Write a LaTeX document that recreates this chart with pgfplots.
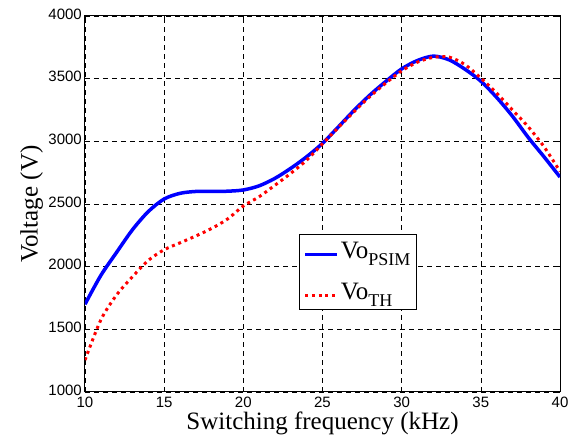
\documentclass[border=0pt]{standalone}
\usepackage{pgfplots}
\pgfplotsset{compat=1.18}
\usepackage{fontspec}
\setmainfont{Liberation Serif}
\newfontfamily\arial{Liberation Sans}
\newcommand{\sub}[1]{\raisebox{-6.5pt}{\fontsize{18}{18}\selectfont #1}}
\begin{document}
\begin{tikzpicture}
\begin{axis}[name=ax,
  scale only axis, width=475pt, height=376pt,
  xmin=10, xmax=40, ymin=1000, ymax=4000,
  xtick={10,15,...,40}, ytick={1000,1500,...,4000},
  /pgf/number format/assume math mode=true,
  /pgf/number format/set thousands separator={},
  ticklabel style={font=\arial\fontsize{15}{15}\selectfont},
  yticklabel style={inner sep=0pt, xshift=-3pt, yshift=2pt},
  xticklabel style={inner sep=0pt, yshift=-5pt},
  tick align=inside, major tick length=5pt,
  xmajorgrids, ymajorgrids,
  grid style={black, dash pattern=on 5pt off 4pt, line width=0.6pt},
  axis line style={line width=1pt},
  tick style={black, line width=0.6pt},
  xlabel={Switching frequency (kHz)},
  ylabel={Voltage (V)},
  label style={font=\fontsize{25}{25}\selectfont},
  xlabel style={yshift=-1pt},
  ylabel style={yshift=2pt},
  legend style={at={(0.4505,0.420)}, anchor=north west, draw=black, line width=1pt,
    font=\fontsize{25}{25}\selectfont, inner xsep=4pt, inner ysep=6pt,
    nodes={inner sep=2pt}, row sep=19pt},
  legend cell align=left,
  legend image code/.code={\draw[#1] (0pt,-3pt) -- (32pt,-3pt);},
]
\addplot[blue, line width=3.5pt, smooth] coordinates {
(10,1700)(11,1930)(12,2115)(13,2295)(14,2440)(15,2540)(16,2585)(17,2600)(18,2600)(19,2602)(20,2612)(21,2645)(22,2705)(23,2785)(24,2877)(25,2984)(26,3115)(27,3248)(28,3370)(29,3478)(30,3578)(31,3645)(32,3680)(33,3650)(34,3575)(35,3480)(36,3350)(37,3200)(38,3030)(39,2875)(40,2715)};
\addlegendentry{Vo\sub{PSIM}}
\addplot[red, line width=3pt, dash pattern=on 3pt off 3.7pt, smooth] coordinates {
(10,1255)(11,1575)(12,1775)(13,1920)(14,2050)(15,2135)(16,2190)(17,2245)(18,2305)(19,2380)(20,2484)(21,2558)(22,2650)(23,2745)(24,2850)(25,2980)(26,3110)(27,3238)(28,3358)(29,3465)(30,3562)(31,3632)(32,3670)(33,3672)(34,3612)(35,3505)(36,3385)(37,3250)(38,3115)(39,2955)(40,2760)};
\addlegendentry{Vo\sub{TH}}
\end{axis}
\path ([xshift=-85pt,yshift=-51pt]ax.south west) rectangle ([xshift=23pt,yshift=16pt]ax.north east);
\end{tikzpicture}
\end{document}
